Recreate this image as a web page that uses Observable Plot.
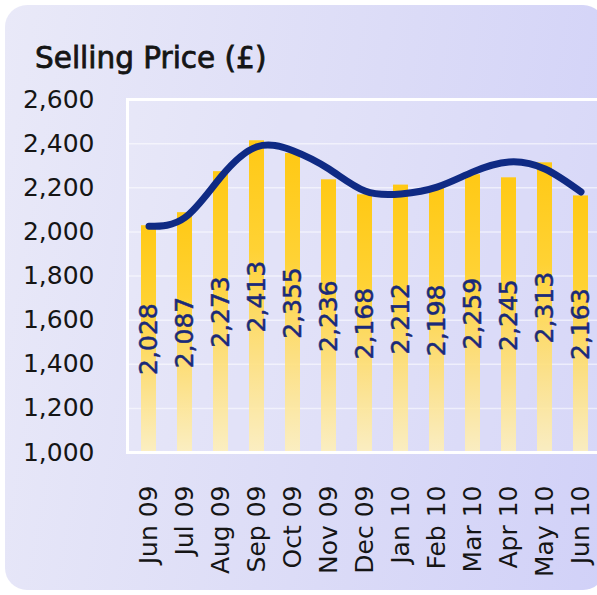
<!DOCTYPE html>
<html>
<head>
<meta charset="utf-8">
<script src="https://cdn.jsdelivr.net/npm/d3@7"></script>
<script src="https://cdn.jsdelivr.net/npm/@observablehq/plot@0.6"></script>
<style>
  html, body { margin: 0; padding: 0; background: #ffffff; overflow: hidden; }
  #wrap { position: relative; width: 597px; height: 595px; overflow: hidden; background: #ffffff; }
  #panel { position: absolute; left: 5px; top: 5px; width: 600px; height: 585px; border-radius: 22px;
           background: linear-gradient(100deg, #e9e9f8 0%, #dcdcf7 55%, #d1d1f8 100%); }
  #title { position: relative; padding: 41px 0 0 35px; height: 34px; line-height: 34px;
           font-family: "DejaVu Sans", sans-serif; font-size: 29.5px; color: #151515;
           -webkit-text-stroke: 0.8px #151515; white-space: nowrap; }
  #chart { position: relative; }
  #chart svg text { stroke-width: 0.5px; }
</style>
</head>
<body>
<div id="wrap">
  <div id="panel"></div>
  <div id="title">Selling Price (£)</div>
  <div id="chart"></div>
</div>
<script>
const months = ["Jun 09","Jul 09","Aug 09","Sep 09","Oct 09","Nov 09","Dec 09","Jan 10","Feb 10","Mar 10","Apr 10","May 10","Jun 10"];
const prices = [2028, 2087, 2273, 2413, 2355, 2236, 2168, 2212, 2198, 2259, 2245, 2313, 2163];
const trend  = [2025, 2065, 2250, 2386, 2368, 2285, 2185, 2172, 2203, 2272, 2317, 2285, 2181];
const yTicks = [1000, 1200, 1400, 1600, 1800, 2000, 2200, 2400, 2600];

const baseline = yTicks[0];
const data = months.map((m, i) => ({month: m, price: prices[i], trend: trend[i]}));

const navy = "#0f2a84";
const ink = "#151515";
const labelInk = "#1a2a7a";

const plot = Plot.plot({
  width: 640,
  height: 520,
  marginTop: 24,
  marginBottom: 143,
  marginLeft: 127,
  marginRight: 0,
  style: {fontFamily: "DejaVu Sans, sans-serif", background: "transparent", overflow: "visible"},
  x: {domain: months, range: [127, 601.5], paddingInner: 0.58, paddingOuter: 0.29, label: null},
  y: {domain: [yTicks[0], yTicks[yTicks.length - 1]], label: null},
  marks: [
    Plot.frame({fill: "#ffffff", fillOpacity: 0.12, stroke: null}),
    Plot.ruleY(yTicks, {stroke: "#ffffff", strokeOpacity: 0.55, strokeWidth: 1.5}),
    Plot.barY(data, {x: "month", y1: () => baseline, y2: "price", fill: "url(#barGrad)"}),
    Plot.frame({stroke: "#ffffff", strokeWidth: 3}),
    Plot.line(data, {x: "month", y: "trend", stroke: navy, strokeWidth: 7,
      curve: "natural", strokeLinecap: "round", strokeLinejoin: "round"}),
    Plot.text(data, {x: "month", y: d => (baseline + d.price) / 2, text: d => d3.format(",")(d.price),
      rotate: -90, fontSize: 25, fill: labelInk, stroke: labelInk, textAnchor: "middle"}),
    Plot.axisY({ticks: yTicks, tickSize: 0, tickPadding: 33, fontSize: 25, fill: ink, stroke: ink,
      tickFormat: d3.format(",")}),
    Plot.axisX({tickSize: 0, tickPadding: 33, tickRotate: -90, fontSize: 25, fill: ink, stroke: ink})
  ]
});

plot.style.maxWidth = "none";
plot.style.height = "520px";

const ns = "http://www.w3.org/2000/svg";
const defs = document.createElementNS(ns, "defs");
const grad = document.createElementNS(ns, "linearGradient");
grad.setAttribute("id", "barGrad");
grad.setAttribute("x1", "0"); grad.setAttribute("y1", "0");
grad.setAttribute("x2", "0"); grad.setAttribute("y2", "1");
[["0%", "#ffc915", 1], ["35%", "#ffd234", 1], ["70%", "#ffe079", 0.9], ["100%", "#fff0b8", 0.85]].forEach(([o, c, a]) => {
  const s = document.createElementNS(ns, "stop");
  s.setAttribute("offset", o);
  s.setAttribute("stop-color", c);
  s.setAttribute("stop-opacity", a);
  grad.appendChild(s);
});
defs.appendChild(grad);
plot.insertBefore(defs, plot.firstChild);

document.getElementById("chart").appendChild(plot);
</script>
</body>
</html>
